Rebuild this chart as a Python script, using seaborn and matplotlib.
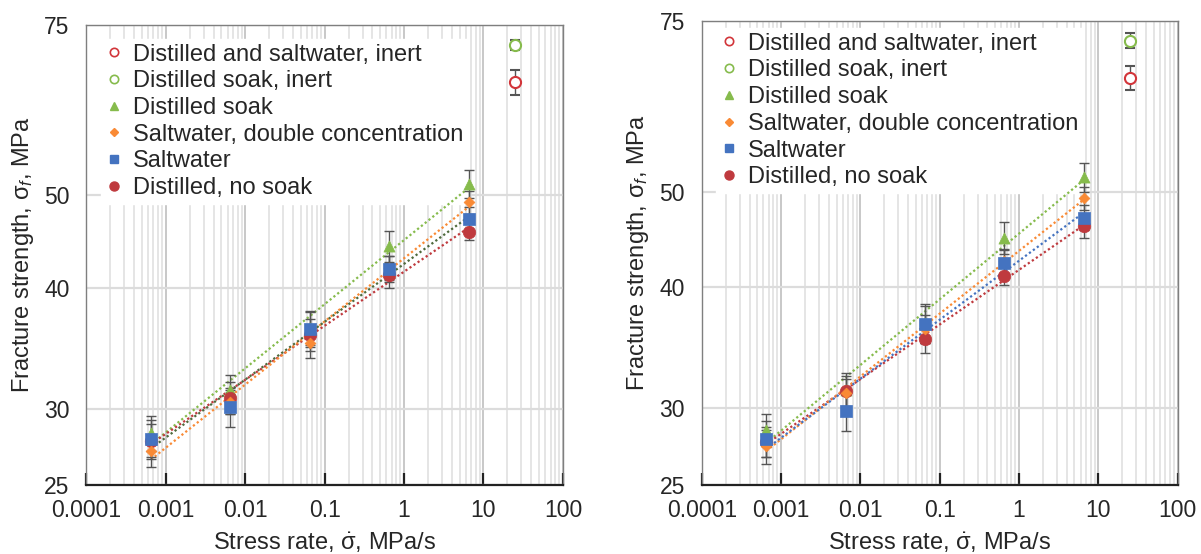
import numpy as np
import matplotlib
matplotlib.use("Agg")
import matplotlib.pyplot as plt
from matplotlib.lines import Line2D
from matplotlib.ticker import LogLocator, FixedLocator, NullFormatter
import seaborn as sns

sns.set_theme(style="white")
plt.rcParams['font.family'] = ['Liberation Sans', 'DejaVu Sans']
plt.rcParams['mathtext.fontset'] = 'custom'
plt.rcParams['mathtext.rm'] = 'Liberation Sans'
plt.rcParams['mathtext.it'] = 'Liberation Sans:italic'

# stress rates, MPa/s
rate = [6.5e-4, 6.5e-3, 6.5e-2, 0.65, 6.5]
inert_rate = [25.0]

# left panel
L_green = [28.3, 31.4, 36.4, 44.2, 51.3]
L_orange = [27.1, 30.5, 35.1, 42.0, 49.1]
L_blue = [27.9, 30.1, 36.3, 41.9, 47.2]
L_red = [27.8, 30.8, 35.8, 41.3, 45.8]
L_green_err = [1.2, 1.1, 1.5, 1.7, 1.7]
L_orange_err = [1.0, 0.9, 1.2, 1.2, 1.3]
L_blue_err = [1.3, 1.4, 1.5, 1.3, 1.4]
L_red_err = [1.1, 1.2, 1.4, 1.3, 0.9]
L_inert_green, L_inert_green_err = [71.5], [0.85]
L_inert_red, L_inert_red_err = [65.4], [1.9]

# right panel
R_green = [28.5, 31.3, 36.7, 44.9, 51.8]
R_orange = [27.4, 31.1, 36.2, 42.5, 49.3]
R_blue = [27.9, 29.8, 36.6, 42.3, 47.1]
R_red = [27.7, 31.25, 35.3, 41.0, 46.2]
R_green_err = [1.1, 1.3, 1.7, 1.7, 1.8]
R_orange_err = [1.1, 1.0, 1.2, 1.2, 1.3]
R_blue_err = [1.2, 1.4, 1.6, 1.3, 1.4]
R_red_err = [1.0, 1.1, 1.1, 0.9, 1.3]
R_inert_green, R_inert_green_err = [71.6], [1.3]
R_inert_red, R_inert_red_err = [65.6], [1.9]

labels = ["Distilled and saltwater, inert", "Distilled soak, inert", "Distilled soak",
          "Saltwater, double concentration", "Saltwater", "Distilled, no soak"]
yticks = [25, 30, 40, 50, 75]
xticks = [1e-4, 1e-3, 1e-2, 1e-1, 1, 10, 100]
xticklabels = ["0.0001", "0.001", "0.01", "0.1", "1", "10", "100"]

c_green = "#86bb4c"
c_orange = "#f98a35"
c_blue = "#4473c0"
c_red = "#bf3a3e"
c_inert_red = "#d2353a"
c_err = "#555555"

fig = plt.figure(figsize=(12.01, 5.54), dpi=100)
axL = fig.add_axes([0.0719, 0.1245, 0.3968, 0.8303])
axR = fig.add_axes([0.5843, 0.1245, 0.3963, 0.8375])


def draw_panel(ax, green, orange, blue, red, errs, ig, ige, ir, ire, blue_line, leg_anchor):
    series = [(green, errs[0], c_green, "^", 8, c_green),
              (red, errs[3], c_red, "o", 9, c_red),
              (orange, errs[1], c_orange, "D", 5.5, c_orange),
              (blue, errs[2], c_blue, "s", 8, blue_line)]
    # dotted power-law trend lines
    for vals, err, col, mk, ms, lcol in series:
        b, a = np.polyfit(np.log10(rate), np.log10(vals), 1)
        xs = np.logspace(np.log10(rate[0]), np.log10(rate[-1]), 50)
        ax.plot(xs, 10 ** (a + b * np.log10(xs)), ls=(0, (1, 1.2)), lw=1.6, color=lcol, zorder=3)
    for vals, err, col, mk, ms, lcol in series:
        ax.errorbar(rate, vals, yerr=err, fmt="none", ecolor=c_err, elinewidth=1.0,
                    capsize=3.5, capthick=1.0, zorder=4)
        sns.scatterplot(x=rate, y=vals, ax=ax, marker=mk, s=ms ** 2, color=col,
                        edgecolor=col, linewidth=0.5, zorder=5, legend=False)
    ax.errorbar(inert_rate, ig, yerr=ige, fmt="o", ms=8, mfc="white", mec=c_green, mew=1.5,
                ecolor=c_err, elinewidth=1.0, capsize=3.5, capthick=1.0, zorder=5)
    ax.errorbar(inert_rate, ir, yerr=ire, fmt="o", ms=8, mfc="white", mec=c_inert_red, mew=1.5,
                ecolor=c_err, elinewidth=1.0, capsize=3.5, capthick=1.0, zorder=5)

    ax.set_xscale("log")
    ax.set_yscale("log")
    ax.set_xlim(1e-4, 100)
    ax.set_ylim(25, 75)
    ax.xaxis.set_major_locator(FixedLocator(xticks))
    ax.set_xticklabels(xticklabels)
    ax.xaxis.set_minor_locator(LogLocator(base=10, subs=np.arange(2, 10)))
    ax.xaxis.set_minor_formatter(NullFormatter())
    ax.yaxis.set_major_locator(FixedLocator(yticks))
    ax.set_yticklabels([str(v) for v in yticks])
    ax.yaxis.set_minor_locator(FixedLocator([]))
    ax.grid(True, which="minor", axis="x", color="#e0e0e0", lw=1.2)
    ax.grid(True, which="major", axis="x", color="#c8c8c8", lw=1.4)
    ax.grid(True, which="major", axis="y", color="#dcdcdc", lw=1.6)
    ax.set_axisbelow(True)
    ax.tick_params(axis="x", which="major", direction="in", length=9, width=1.6,
                   color="#222222", labelsize=16.5, pad=10, bottom=True)
    ax.tick_params(axis="x", which="minor", length=0)
    ax.tick_params(axis="y", which="both", length=0, labelsize=16.5, pad=12)
    for s in ["left", "top", "right"]:
        ax.spines[s].set_color("#7f7f7f")
        ax.spines[s].set_linewidth(1.0)
    ax.spines["bottom"].set_color("#222222")
    ax.spines["bottom"].set_linewidth(1.6)
    ax.set_xlabel(r"Stress rate, $\dot{\mathrm{\sigma}}$, MPa/s", fontsize=17, labelpad=6)
    ax.set_ylabel(r"Fracture strength, $\mathrm{\sigma}_{f}$, MPa", fontsize=17, labelpad=6)

    handles = [
        Line2D([], [], ls="none", marker="o", ms=6, mfc="white", mec=c_inert_red, mew=1.2),
        Line2D([], [], ls="none", marker="o", ms=6, mfc="white", mec=c_green, mew=1.2),
        Line2D([], [], ls="none", marker="^", ms=6, color=c_green),
        Line2D([], [], ls="none", marker="D", ms=4.5, color=c_orange),
        Line2D([], [], ls="none", marker="s", ms=6, color=c_blue),
        Line2D([], [], ls="none", marker="o", ms=6.5, color=c_red),
    ]
    leg = ax.legend(handles, labels, loc="upper left", bbox_to_anchor=leg_anchor,
                    fontsize=17, frameon=True, fancybox=False, framealpha=1,
                    edgecolor="white", facecolor="white", borderaxespad=0,
                    borderpad=0.2, labelspacing=0.2, handlelength=0.7,
                    handletextpad=0.45)
    # above the grid, below the data
    leg.set_zorder(2)


draw_panel(axL, L_green, L_orange, L_blue, L_red,
           [L_green_err, L_orange_err, L_blue_err, L_red_err],
           L_inert_green, L_inert_green_err, L_inert_red, L_inert_red_err,
           "#4e6a3c", (0.03, 0.97))
draw_panel(axR, R_green, R_orange, R_blue, R_red,
           [R_green_err, R_orange_err, R_blue_err, R_red_err],
           R_inert_green, R_inert_green_err, R_inert_red, R_inert_red_err,
           c_blue, (0.03, 0.985))

fig.savefig("out.png", dpi=100)
